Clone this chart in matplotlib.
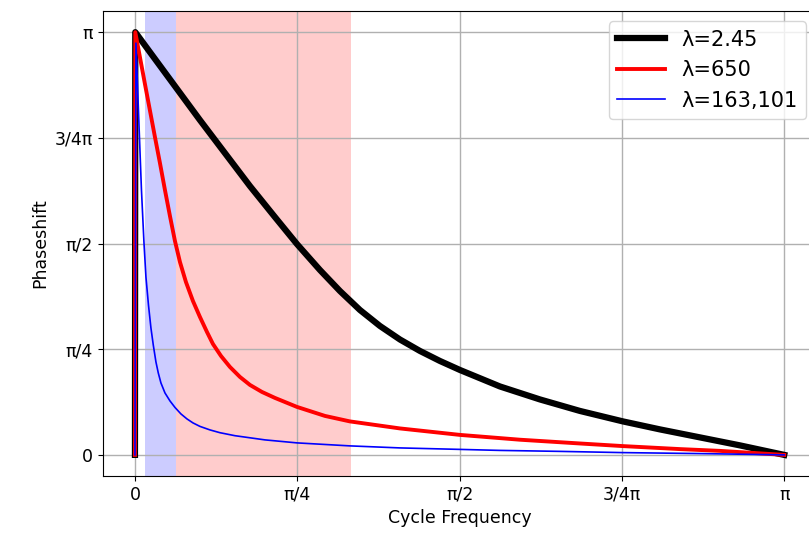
import numpy as np
import matplotlib
matplotlib.use("Agg")
import matplotlib.pyplot as plt

# -------------------------------
# Data (frequency and phase in units of pi)
# -------------------------------
black_x = [0.0, 0.0005, 0.0231, 0.0616, 0.1001, 0.1386, 0.1771, 0.2156, 0.2495,
           0.2849, 0.3157, 0.3465, 0.3773, 0.4081, 0.4389, 0.4697, 0.5005,
           0.5621, 0.6237, 0.6853, 0.7516, 0.8086, 0.8702, 0.9318, 1.0]
black_y = [0.0, 1.000, 0.9527, 0.8723, 0.7920, 0.7139, 0.6359, 0.5626, 0.4988,
           0.4374, 0.3877, 0.3428, 0.3050, 0.2730, 0.2459, 0.2222, 0.2009,
           0.1619, 0.1312, 0.1040, 0.0792, 0.0603, 0.0414, 0.0225, 0.0]

red_x = [0.0, 0.0005, 0.0154, 0.0308, 0.0385, 0.0462, 0.0539, 0.0616, 0.0693,
         0.0785, 0.0893, 0.1001, 0.1109, 0.1201, 0.1325, 0.1463, 0.1617,
         0.1771, 0.1956, 0.2156, 0.2495, 0.2926, 0.3311, 0.4081, 0.5005,
         0.5929, 0.6853, 0.7516, 0.8394, 0.9010, 1.0]
red_y = [0.0, 1.000, 0.8771, 0.7518, 0.6903, 0.6265, 0.5650, 0.5059, 0.4563,
         0.4090, 0.3641, 0.3262, 0.2908, 0.2624, 0.2340, 0.2080, 0.1844,
         0.1655, 0.1489, 0.1348, 0.1135, 0.0922, 0.0792, 0.0626, 0.0473,
         0.0359, 0.0270, 0.0208, 0.0137, 0.0095, 0.0]

blue_x = [0.0, 0.0015, 0.0069, 0.0100, 0.0139, 0.0169, 0.0208, 0.0246, 0.0282,
          0.0323, 0.0359, 0.0400, 0.0462, 0.0539, 0.0616, 0.0708, 0.0801,
          0.0893, 0.1001, 0.1155, 0.1309, 0.1540, 0.2002, 0.2495, 0.3311,
          0.4081, 0.5005, 0.5621, 0.6546, 0.7516, 0.8702, 1.0]
blue_y = [0.0, 0.974, 0.7518, 0.6265, 0.5012, 0.4208, 0.3546, 0.3002, 0.2600,
          0.2199, 0.1939, 0.1702, 0.1466, 0.1277, 0.1123, 0.0969, 0.0851,
          0.0757, 0.0674, 0.0591, 0.0525, 0.0454, 0.0355, 0.0284, 0.0213,
          0.0165, 0.0130, 0.0106, 0.0083, 0.0054, 0.0031, 0.0]

labels = ["λ=2.45", "λ=650", "λ=163,101"]

# business cycle bands (periods in quarters)
long_period = 128
cycle_long = 32
cycle_short = 6

tick_vals = [0, 0.25, 0.5, 0.75, 1.0]
tick_labels = ["0", "π/4", "π/2", "3/4π", "π"]

# -------------------------------
# Plot
# -------------------------------
plt.rcParams["font.size"] = 12.5
fig = plt.figure(figsize=(8.09, 5.41), dpi=100)
# right spine falls just outside the canvas, as in the original
ax = fig.add_axes([0.1267, 0.1201, 0.8828, 0.8595])

ax.axvspan(2 * np.pi / long_period, 2 * np.pi / cycle_long, color="blue", alpha=0.2, lw=0)
ax.axvspan(2 * np.pi / cycle_long, 2 * np.pi / cycle_short, color="red", alpha=0.2, lw=0)

ax.plot(np.array(black_x) * np.pi, np.array(black_y) * np.pi, color="black", lw=4.5, label=labels[0])
ax.plot(np.array(red_x) * np.pi, np.array(red_y) * np.pi, color="red", lw=2.8, label=labels[1])
ax.plot(np.array(blue_x) * np.pi, np.array(blue_y) * np.pi, color="blue", lw=1.2, label=labels[2])

ax.set_xticks(np.array(tick_vals) * np.pi)
ax.set_xticklabels(tick_labels)
ax.set_yticks(np.array(tick_vals) * np.pi)
ax.set_yticklabels(tick_labels)
ax.set_xlim(-0.05 * np.pi, 1.05 * np.pi)
ax.set_ylim(-0.05 * np.pi, 1.05 * np.pi)
ax.grid(True, color="#b0b0b0", lw=1)

ax.set_xlabel("Cycle Frequency")
ax.set_ylabel("Phaseshift")
ax.legend(loc="upper right", fontsize=15, handlelength=2.3)

fig.savefig("out.png", dpi=100)
